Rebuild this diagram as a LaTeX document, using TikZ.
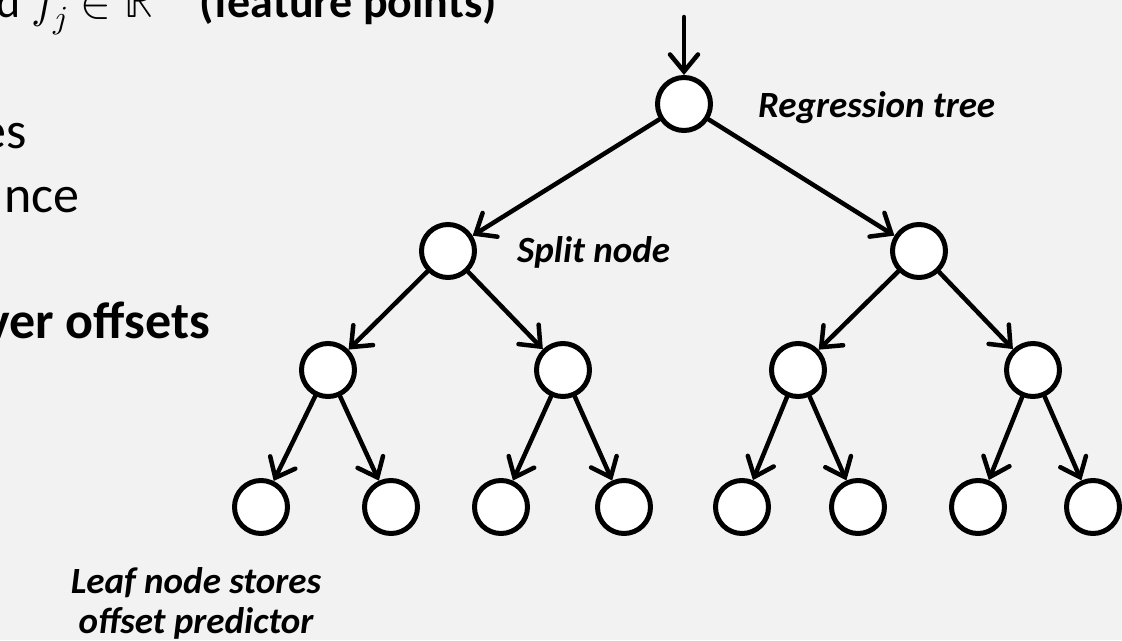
\documentclass[tikz,border=0pt]{standalone}
\usepackage{amsmath}
\usepackage{fontspec}
\usepackage{unicode-math}
\setmainfont{Carlito}
\setmathfont{Latin Modern Math}
\usepackage{tikz}
\usetikzlibrary{arrows.meta,positioning}
\definecolor{slideGray}{RGB}{242,242,242}

\begin{document}
\begin{tikzpicture}[
        x=1pt, y=-1pt,
        tnode/.style={circle, draw, line width=5pt, fill=white, minimum size=53pt, inner sep=0pt},
        arrow/.style={-{Straight Barb[length=17pt, width=28pt, line cap=round]}, line width=4.5pt, line cap=round},
        tag/.style={font=\fontsize{37}{40}\selectfont\bfseries\itshape, inner sep=0pt},
        body/.style={font=\fontsize{52}{60}\selectfont, inner sep=0pt}
    ]
    \fill[slideGray] (0,0) rectangle (1122,640);
    \useasboundingbox (0,0) rectangle (1122,640);

    % slide text, cut off at the left
    \node[body, font=\fontsize{46}{56}\selectfont, anchor=base east] (feat) at (497,17) {d $f_j \in \mathbb{R}$\quad\textbf{(feature points)}};
    \node[body, anchor=base east] (lineA) at (27,148) {es};
    \node[body, anchor=base east] (lineB) at (80,212) {nce};
    \node[body, anchor=base east] (offs) at (210,338) {\textbf{ver offsets}};

    % tree
    \node[tnode] (root) at (684,104) {};
    \node[tnode] (s1) at (448,251) {};
    \node[tnode] (s2) at (919,251) {};
    \node[tnode] (s11) at (328,370) {};
    \node[tnode] (s12) at (563,370) {};
    \node[tnode] (s21) at (798,370) {};
    \node[tnode] (s22) at (1033,370) {};
    \node[tnode] (leaf1) at (261,507) {};
    \node[tnode] (leaf2) at (391,507) {};
    \node[tnode] (leaf3) at (501,507) {};
    \node[tnode] (leaf4) at (624,507) {};
    \node[tnode] (leaf5) at (742,507) {};
    \node[tnode] (leaf6) at (858,507) {};
    \node[tnode] (leaf7) at (978,507) {};
    \node[tnode] (leaf8) at (1093,507) {};

    \coordinate (in) at (684,17);
    \draw[arrow] (in) -- (root);
    \draw[arrow] (root) -- (s1);
    \draw[arrow] (root) -- (s2);
    \draw[arrow] (s1) -- (s11);
    \draw[arrow] (s1) -- (s12);
    \draw[arrow] (s2) -- (s21);
    \draw[arrow] (s2) -- (s22);
    \draw[arrow] (s11) -- (leaf1);
    \draw[arrow] (s11) -- (leaf2);
    \draw[arrow] (s12) -- (leaf3);
    \draw[arrow] (s12) -- (leaf4);
    \draw[arrow] (s21) -- (leaf5);
    \draw[arrow] (s21) -- (leaf6);
    \draw[arrow] (s22) -- (leaf7);
    \draw[arrow] (s22) -- (leaf8);

    \node[tag, anchor=base west] (rtree) at (758,117) {Regression tree};
    \node[tag, anchor=base west] (split) at (517,262) {Split node};
    \node[tag, align=center] (leafnote) at (196,603) {Leaf node stores\\offset predictor};
\end{tikzpicture}
\end{document}
